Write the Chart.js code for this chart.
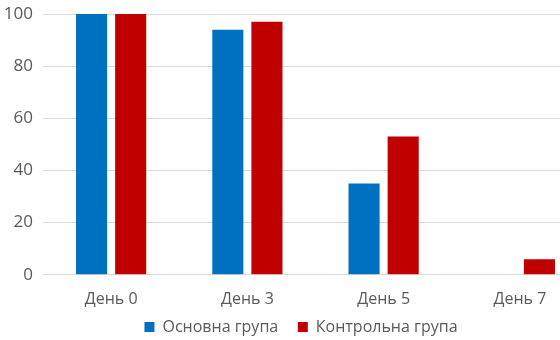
<!DOCTYPE html>
<html>
<head>
<meta charset="utf-8">
<script src="https://cdn.jsdelivr.net/npm/chart.js@4"></script>
<style>
  html, body { margin: 0; padding: 0; background: #fff; overflow: hidden; }
  #wrap { width: 588px; height: 340px; }
</style>
</head>
<body>
<div id="wrap"><canvas id="chart"></canvas></div>
<script>
// chart data
var days = ['День 0', 'День 3', 'День 5', 'День 7'];
var mainGroup = [100, 94, 35, 0];
var controlGroup = [100, 97, 53, 6];
var yTicks = [0, 20, 40, 60, 80, 100];

var textColor = '#595959';
var fontFamily = "'Open Sans', 'Noto Sans', sans-serif";

// nudge the legend a bit to the right
var legendShift = {
  id: 'legendShift',
  afterLayout: function (chart) {
    chart.legend.left += 7;
    chart.legend.right += 7;
  }
};

var ctx = document.getElementById('chart').getContext('2d');
var chart = new Chart(ctx, {
  type: 'bar',
  data: {
    labels: days,
    datasets: [{
      label: 'Основна група',
      data: mainGroup,
      backgroundColor: '#0070C0'
    }, {
      label: 'Контрольна група',
      data: controlGroup,
      backgroundColor: '#C00000'
    }]
  },
  options: {
    responsive: true,
    maintainAspectRatio: false,
    animation: false,
    categoryPercentage: 0.574,
    barPercentage: 0.795,
    layout: { padding: { top: 14, right: 0, bottom: -5, left: 0 } },
    plugins: {
      tooltip: { enabled: false },
      legend: {
        position: 'bottom',
        labels: {
          boxWidth: 10,
          boxHeight: 10,
          padding: 3,
          color: textColor,
          font: { family: fontFamily, size: 16 },
          generateLabels: function (chart) {
            var items = Chart.defaults.plugins.legend.labels.generateLabels(chart);
            items[0].text += '    ';
            return items;
          }
        }
      }
    },
    scales: {
      x: {
        grid: { display: false },
        border: { display: false },
        ticks: { color: textColor, font: { family: fontFamily, size: 16 }, padding: 7 }
      },
      y: {
        min: 0,
        max: 100,
        afterBuildTicks: function (axis) {
          axis.ticks = yTicks.map(function (v) { return { value: v }; });
        },
        afterFit: function (axis) {
          axis.width = 43;
          axis.paddingTop = 0;
          axis.paddingBottom = 0;
        },
        grid: { color: '#d9d9d9', drawTicks: false },
        border: { display: false },
        ticks: { color: textColor, font: { family: fontFamily, size: 17 }, padding: 10 }
      }
    }
  },
  plugins: [legendShift]
});
</script>
</body>
</html>
